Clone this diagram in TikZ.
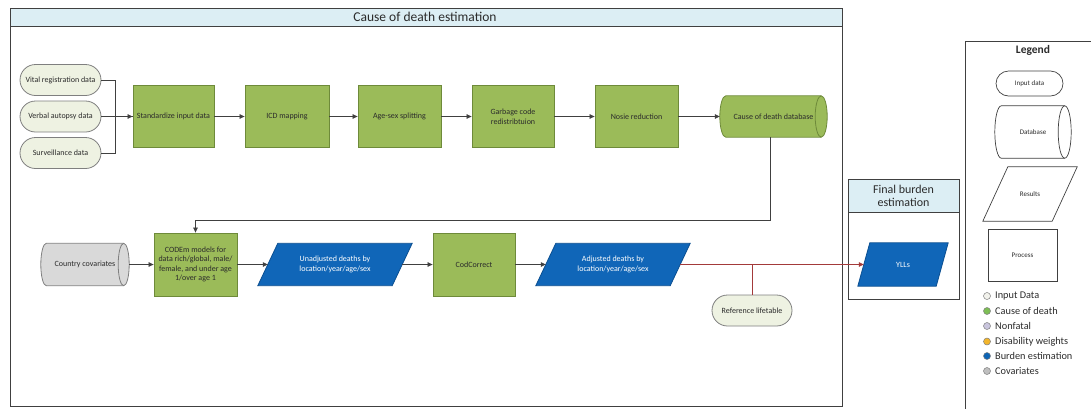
\documentclass[tikz,border=0pt]{standalone}
\usepackage{fontspec}
\setmainfont{Carlito}
\usetikzlibrary{shapes.misc,arrows.meta,calc,backgrounds}

\definecolor{procfill}{HTML}{9BBB59}
\definecolor{procline}{HTML}{6E8A3A}
\definecolor{resfill}{HTML}{1066B8}
\definecolor{resline}{HTML}{0B4F91}
\definecolor{inpfill}{HTML}{EEF2E2}
\definecolor{inpline}{HTML}{7F7F7F}
\definecolor{covfill}{HTML}{D9D9D9}
\definecolor{bandfill}{HTML}{DCEEF4}
\definecolor{frameline}{HTML}{404040}
\definecolor{linkline}{HTML}{404040}
\definecolor{burdenlink}{HTML}{A33A3A}
\definecolor{txt}{HTML}{2B2B2B}
\definecolor{legline}{HTML}{404040}
\definecolor{keyinput}{HTML}{F2F2EC}
\definecolor{keycod}{HTML}{7DBE55}
\definecolor{keynonfatal}{HTML}{C9C5DD}
\definecolor{keydw}{HTML}{F3B52A}
\definecolor{keyburden}{HTML}{0E64B4}
\definecolor{keycov}{HTML}{BFBFBF}

% horizontal cylinder around node #1, end radius #2, path style #3
\newcommand\drawcyl[3]{%
  \path[#3] let \p1=(#1.north), \p2=(#1.south), \n1={(\y1-\y2)/2} in
    ([xshift=#2]#1.north west) -- ([xshift=-#2]#1.north east)
    arc[start angle=90,end angle=-90,x radius=#2,y radius=\n1]
    -- ([xshift=#2]#1.south west)
    arc[start angle=270,end angle=90,x radius=#2,y radius=\n1] -- cycle;
  \path[#3,fill=none] let \p1=(#1.north), \p2=(#1.south), \n1={(\y1-\y2)/2} in
    ([xshift=-#2]#1.north east)
    arc[start angle=90,end angle=270,x radius=#2,y radius=\n1];
}
% parallelogram around node #1, half slant #2, path style #3
\newcommand\drawpar[3]{%
  \path[#3] ([xshift=-#2]#1.south west) -- ([xshift=-#2]#1.south east)
    -- ([xshift=#2]#1.north east) -- ([xshift=#2]#1.north west) -- cycle;
}

\begin{document}
\begin{tikzpicture}[x=1pt,y=1pt,
  lbl/.style={font=\fontsize{8}{9.5}\selectfont, text=txt, align=center, inner sep=1pt},
  inp/.style={lbl, rounded rectangle, draw=inpline, fill=inpfill, line width=0.8pt,
    minimum height=31pt, minimum width=83pt},
  proc/.style={lbl, rectangle, draw=procline, fill=procfill, line width=0.8pt,
    minimum width=82pt, minimum height=62pt},
  cylbox/.style={lbl, rectangle, minimum height=41pt},
  parbox/.style={lbl, text=white, rectangle, minimum height=42pt},
  conn/.style={draw=linkline, line width=0.7pt, -{Triangle[length=5pt,width=4.5pt]}},
  plain/.style={draw=linkline, line width=0.7pt},
  burden/.style={draw=burdenlink, line width=0.7pt},
  burdenarrow/.style={burden, -{Triangle[length=5pt,width=4.5pt]}},
  band/.style={draw=frameline, fill=bandfill, line width=0.9pt},
  frame/.style={draw=frameline, line width=0.9pt},
  lsm/.style={font=\fontsize{7}{8}\selectfont, text=txt, inner sep=1pt},
  key/.style={circle, draw=inpline, line width=0.5pt, minimum size=7pt, inner sep=0pt},
  keytext/.style={anchor=west, font=\fontsize{10.3}{12}\selectfont, text=txt, inner sep=0pt}
]
\useasboundingbox (0,0) rectangle (1091,-408);

% ---- cause of death estimation frame ----
\draw[frame] (10,-8) rectangle (842,-406);
\draw[band] (10,-8) rectangle (842,-26);
\node[font=\fontsize{13.5}{15}\selectfont, text=txt] (codtitle) at (425,-17) {Cause of death estimation};

% ---- final burden estimation frame ----
\draw[frame] (848,-179) rectangle (959,-299);
\draw[band] (848,-179) rectangle (959,-212);
\node[font=\fontsize{12}{13}\selectfont, text=txt, align=center] (fbtitle) at (903.5,-195.5) {Final burden\\estimation};

% ---- legend frame ----
\draw[draw=legline, line width=0.9pt] (965,-41) rectangle (1096,-412);
\node[font=\bfseries\fontsize{11.5}{13}\selectfont, text=txt] (legtitle) at (1033,-50) {Legend};

% ---- upper row ----
\node[inp] (vr) at (60.5,-80) {Vital registration data};
\node[inp] (va) at (60.5,-116.5) {Verbal autopsy data};
\node[inp] (sv) at (60.5,-153) {Surveillance data};
\node[proc, minimum width=81pt] (std) at (173.5,-116.5) {Standardize input data};
\node[proc, minimum width=84pt] (icd) at (287,-116.5) {ICD mapping};
\node[proc, minimum width=83pt] (age) at (399.5,-116.5) {Age-sex splitting};
\node[proc] (gar) at (513,-116.5) {Garbage code\\redistribtuion};
\node[proc, minimum width=83pt] (noi) at (636.5,-116.5) {Nosie reduction};
\node[cylbox, minimum width=107pt] (db) at (773.5,-116.5) {Cause of death database};

% ---- lower row ----
\node[cylbox, minimum width=88pt, minimum height=42pt] (cov) at (85,-264.5) {Country covariates};
\node[proc, minimum width=83pt, minimum height=63pt] (codem) at (195.5,-264.5)
  {CODEm models for\\data rich/global, male/\\female, and under age\\1/over age 1};
\node[parbox, minimum width=134pt] (unadj) at (335,-264.5) {Unadjusted deaths by\\location/year/age/sex};
\node[proc, minimum height=63pt] (codc) at (474,-264.5) {CodCorrect};
\node[parbox, minimum width=134pt] (adj) at (613,-264.5) {Adjusted deaths by\\location/year/age/sex};
\node[inp, minimum width=82pt] (ref) at (752,-310.5) {Reference lifetable};
\node[parbox, minimum width=78pt, minimum height=43pt] (yll) at (903,-264.5) {YLLs};

% ---- legend shapes ----
\node[lsm, rounded rectangle, draw=legline, line width=0.7pt, minimum width=69pt, minimum height=25pt] (lin) at (1029.5,-83.5) {Input data};
\node[lsm, minimum width=76pt, minimum height=52pt] (ldb) at (1033,-132) {Database};
\node[lsm, minimum width=69pt, minimum height=54pt] (lres) at (1030,-194) {Results};
\node[lsm, draw=legline, line width=0.7pt, minimum width=69pt, minimum height=52pt] (lproc) at (1022.5,-255) {Process};

% ---- legend colour keys ----
\node[key, fill=keyinput] (k1) at (987,-296) {};
\node[keytext] at (995,-296) {Input Data};
\node[key, fill=keycod] (k2) at (987,-311) {};
\node[keytext] at (995,-311) {Cause of death};
\node[key, fill=keynonfatal] (k3) at (987,-326) {};
\node[keytext] at (995,-326) {Nonfatal};
\node[key, fill=keydw] (k4) at (987,-341.5) {};
\node[keytext] at (995,-341.5) {Disability weights};
\node[key, fill=keyburden] (k5) at (987,-356) {};
\node[keytext] at (995,-356) {Burden estimation};
\node[key, fill=keycov] (k6) at (987,-371) {};
\node[keytext] at (995,-371) {Covariates};

% ---- shapes drawn behind their labels ----
\begin{pgfonlayer}{background}
  \drawcyl{db}{6pt}{draw=procline, fill=procfill, line width=0.8pt}
  \drawcyl{cov}{5.5pt}{draw=inpline, fill=covfill, line width=0.8pt}
  \drawpar{unadj}{10pt}{draw=resline, fill=resfill, line width=0.8pt}
  \drawpar{adj}{10pt}{draw=resline, fill=resfill, line width=0.8pt}
  \drawpar{yll}{6pt}{draw=resline, fill=resfill, line width=0.8pt}
  \drawcyl{ldb}{6.5pt}{draw=legline, fill=white, line width=0.7pt}
  \drawpar{lres}{12.5pt}{draw=legline, line width=0.7pt}
\end{pgfonlayer}

% ---- connectors ----
\draw[plain] (vr.east) -- ++(14,0) |- (std.west);
\draw[plain] (sv.east) -- ++(14,0) |- (std.west);
\draw[conn] (va.east) -- (std.west);
\draw[conn] (std.east) -- (icd.west);
\draw[conn] (icd.east) -- (age.west);
\draw[conn] (age.east) -- (gar.west);
\draw[conn] (gar.east) -- (noi.west);
\draw[conn] (noi.east) -- (db.west);
\draw[conn] ([xshift=-3.5pt]db.south) -- ++(0,-83.5) -| (codem.north);
\draw[conn] (cov.east) -- (codem.west);
\draw[conn] (codem.east) -- (unadj.west);
\draw[conn] (unadj.east) -- (codc.west);
\draw[conn] (codc.east) -- (adj.west);
\draw[burdenarrow] (adj.east) -- (yll.west);
\draw[burden] (ref.north) -- (ref.north |- adj.east);
\end{tikzpicture}
\end{document}
